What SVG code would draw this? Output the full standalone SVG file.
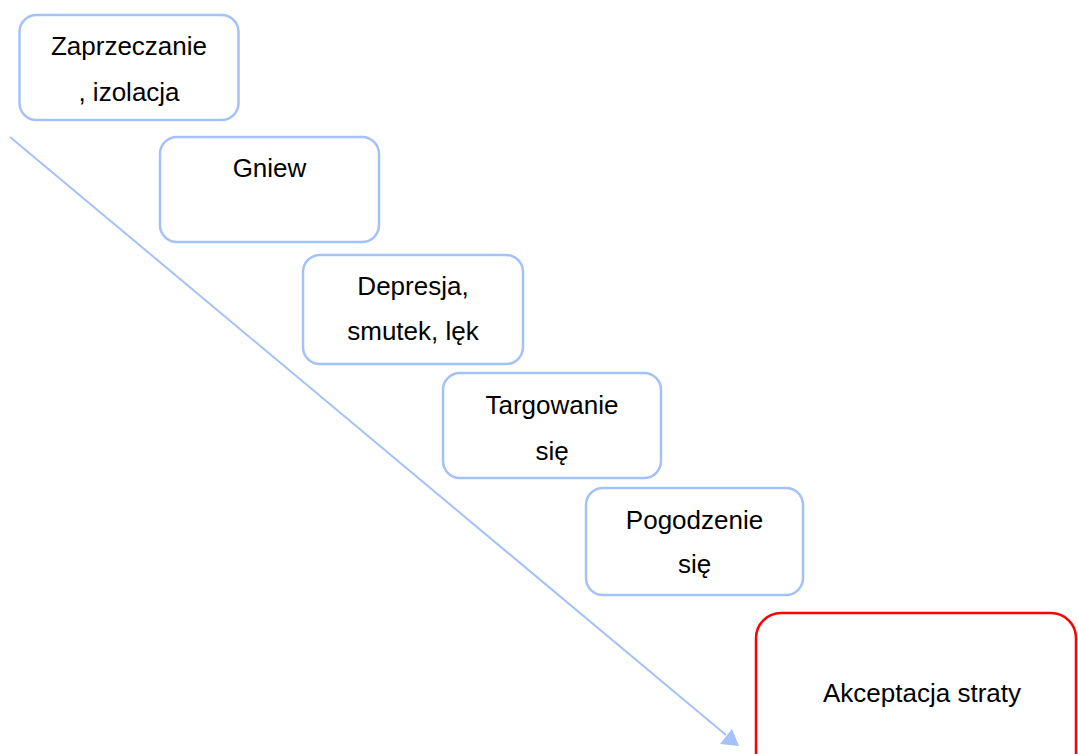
<svg xmlns="http://www.w3.org/2000/svg" width="1078" height="754" viewBox="0 0 1078 754">
  <style>
    .stage { fill: #ffffff; stroke: #a4c2f8; stroke-width: 2.5; }
    .final { fill: #ffffff; stroke: #ff0000; stroke-width: 2.5; }
    .label { font-family: "Liberation Sans", Arial, sans-serif; font-size: 26px; fill: #000000; text-anchor: middle; }
    .flow { stroke: #a4c2f8; stroke-width: 2; fill: none; }
  </style>
  <rect width="1078" height="754" fill="#ffffff"/>

  <g id="connectors">
    <line class="flow" x1="10" y1="137" x2="726" y2="735"/>
    <path d="M739,746 L720,744 L732,729 z" fill="#a4c2f8"/>
  </g>

  <g id="stage-1">
    <rect class="stage" x="19.5" y="15" width="219" height="105" rx="17"/>
    <text class="label" x="129" y="55">Zaprzeczanie</text>
    <text class="label" x="129" y="101">, izolacja</text>
  </g>

  <g id="stage-2">
    <rect class="stage" x="160" y="137" width="219" height="105" rx="17"/>
    <text class="label" x="269.5" y="177">Gniew</text>
  </g>

  <g id="stage-3">
    <rect class="stage" x="303" y="255" width="220" height="109" rx="17"/>
    <text class="label" x="413" y="295">Depresja,</text>
    <text class="label" x="413" y="340">smutek, lęk</text>
  </g>

  <g id="stage-4">
    <rect class="stage" x="443" y="373" width="218" height="105" rx="17"/>
    <text class="label" x="552" y="414">Targowanie</text>
    <text class="label" x="552" y="460">się</text>
  </g>

  <g id="stage-5">
    <rect class="stage" x="586" y="488" width="217" height="107" rx="17"/>
    <text class="label" x="694.5" y="529">Pogodzenie</text>
    <text class="label" x="694.5" y="573">się</text>
  </g>

  <g id="stage-6">
    <rect class="final" x="756" y="613" width="320" height="170" rx="25"/>
    <text class="label" x="922" y="702">Akceptacja straty</text>
  </g>
</svg>
